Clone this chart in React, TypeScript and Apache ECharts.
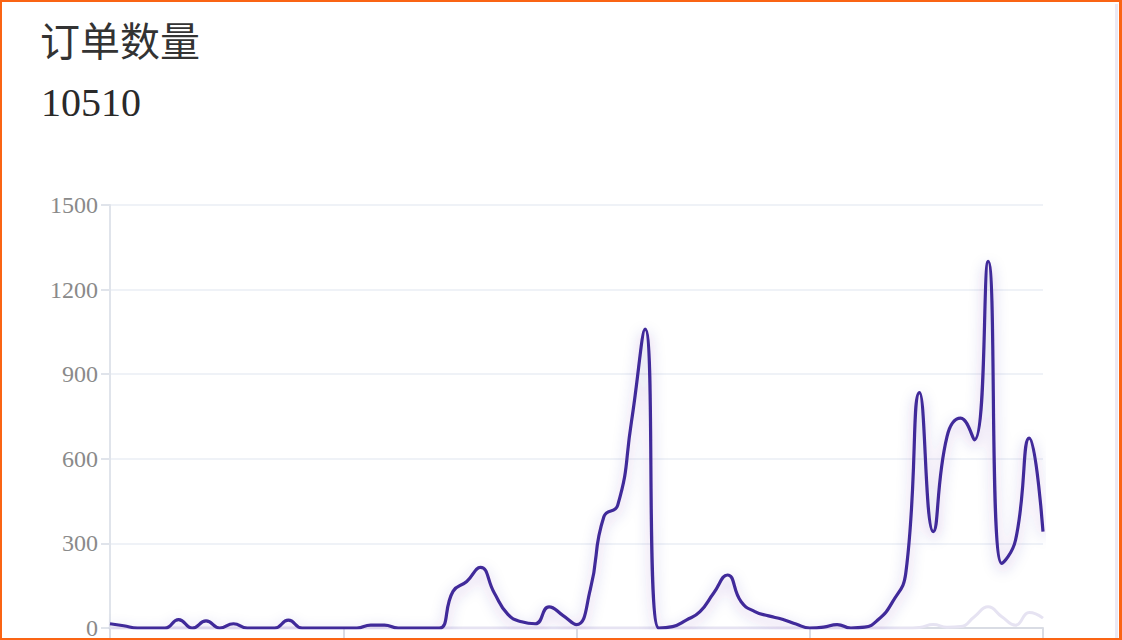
import * as echarts from 'echarts';
import { useEffect, useRef } from 'react';

const title = '订单数量';
const total = '10510';

// daily order counts (main series)
const orders = [
  15, 8, 0, 0, 0, 30, 0, 25, 0, 15, 0, 0, 0, 28, 0, 0, 0, 0, 0, 10, 10, 0, 0, 0, 0,
  130, 165, 215, 125, 48, 22, 15, 75, 45, 12,
  135, 395, 435, 730, 1060, 0, 5, 28, 58, 124, 188, 93, 58, 43, 31, 14, 0, 3, 12, 0, 3,
  30, 90, 195, 835, 342, 678, 744, 667, 1300, 229, 312, 673, 342,
];

// faint comparison series
const compare = [
  0, 0, 0, 0, 0, 0, 0, 0, 0, 0, 0, 0, 0, 0, 0, 0, 0, 0, 0, 0, 0, 0, 0, 0, 0,
  0, 0, 0, 0, 0, 0, 0, 0, 0, 0,
  0, 0, 0, 0, 0, 0, 0, 0, 0, 0, 0, 0, 0, 0, 0, 0, 0, 0, 0, 0, 0,
  0, 0, 0, 2, 12, 3, 5, 40, 75, 40, 10, 55, 35,
];

const categories = orders.map((_, i) => String(i + 1));

const yTicks = [0, 300, 600, 900, 1200, 1500];

export default function App() {
  const ref = useRef<HTMLDivElement>(null);

  useEffect(() => {
    const chart = echarts.init(ref.current!, undefined, { renderer: 'svg' });
    chart.setOption({
      animation: false,
      backgroundColor: '#fff',
      title: [
        {
          text: title,
          left: 40,
          top: 19,
          padding: 0,
          textStyle: {
            fontFamily: '"Noto Sans CJK SC", sans-serif',
            fontSize: 40,
            fontWeight: 'normal',
            color: '#333',
            lineHeight: 40,
          },
        },
        {
          text: total,
          left: 41,
          top: 82,
          padding: 0,
          textStyle: {
            fontFamily: '"Liberation Serif", serif',
            fontSize: 40,
            fontWeight: 'normal',
            color: '#2a2a2a',
            lineHeight: 40,
          },
        },
      ],
      grid: { left: 110, right: 79, top: 205, bottom: 12, outerBoundsMode: 'none' },
      xAxis: {
        type: 'category',
        data: categories,
        boundaryGap: false,
        axisLine: { lineStyle: { color: '#d9dce4', width: 2 } },
        axisTick: { interval: 16, length: 10, lineStyle: { color: '#d9dce4', width: 2 } },
        axisLabel: { show: false },
        splitLine: { show: false },
      },
      yAxis: {
        type: 'value',
        min: yTicks[0],
        max: yTicks[yTicks.length - 1],
        interval: 300,
        axisLine: { show: true, lineStyle: { color: '#e0e4eb', width: 2 } },
        axisTick: { show: true, length: 9, lineStyle: { color: '#e0e4eb', width: 2 } },
        axisLabel: {
          margin: 12,
          color: '#8a8a8a',
          fontSize: 24,
          fontFamily: '"Liberation Serif", serif',
          formatter: (v: number) => String(v),
        },
        splitLine: { lineStyle: { color: '#eff2f7', width: 2 } },
      },
      series: [
        {
          type: 'line',
          data: compare,
          smooth: true,
          symbol: 'none',
          lineStyle: { color: '#e6e3f2', width: 3 },
          z: 1,
        },
        {
          type: 'line',
          data: orders,
          smooth: true,
          symbol: 'none',
          lineStyle: {
            color: '#41299a',
            width: 3.2,
            shadowColor: 'rgba(65,41,154,0.32)',
            shadowBlur: 14,
            shadowOffsetY: 5,
          },
          z: 3,
        },
      ],
    });
    return () => chart.dispose();
  }, []);

  return (
    <div style={{ position: 'fixed', left: 0, top: 0, width: 1122, height: 640, background: '#fff', overflow: 'hidden' }}>
      <div ref={ref} style={{ position: 'absolute', left: 0, top: 0, width: 1122, height: 640 }} />
      <div style={{ position: 'absolute', left: 1115, top: 4, width: 3, height: 636, background: '#ebe9f5' }} />
      <div
        style={{
          position: 'absolute',
          left: 0,
          top: 0,
          width: 1122,
          height: 640,
          boxSizing: 'border-box',
          border: '2px solid #fa6414',
          borderRightWidth: 3,
          pointerEvents: 'none',
        }}
      />
    </div>
  );
}
